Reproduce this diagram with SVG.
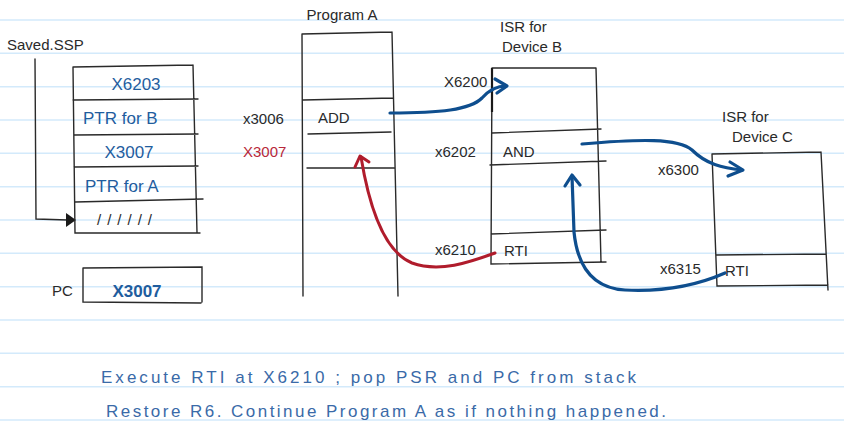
<svg xmlns="http://www.w3.org/2000/svg" width="844" height="434" viewBox="0 0 844 434">
<defs>
<style>
.rule{stroke:#d3eafb;stroke-width:1.5}
.box{fill:none;stroke:#2a2a2a;stroke-width:1.4;stroke-linecap:round}
.t{font-family:"Liberation Sans",Arial,sans-serif;font-size:15px;fill:#2a2a2a}
.tb{font-family:"Liberation Sans",Arial,sans-serif;font-size:17px;fill:#1f5d9e}
.tr{font-family:"Liberation Sans",Arial,sans-serif;font-size:15px;fill:#b8283a}
.note{font-family:"Liberation Sans",Arial,sans-serif;font-size:17px;fill:#3a6aa8}
.ab{fill:none;stroke:#0e4e8e;stroke-width:3.2;stroke-linecap:round;stroke-linejoin:round}
.ar{fill:none;stroke:#b01c2c;stroke-width:3;stroke-linecap:round;stroke-linejoin:round}
</style>
</defs>
<rect width="844" height="434" fill="#ffffff"/>
<g id="ruled">
<line class="rule" x1="0" y1="20" x2="844" y2="20"/>
<line class="rule" x1="0" y1="53.3" x2="844" y2="53.3"/>
<line class="rule" x1="0" y1="86.7" x2="844" y2="86.7"/>
<line class="rule" x1="0" y1="120" x2="844" y2="120"/>
<line class="rule" x1="0" y1="153.3" x2="844" y2="153.3"/>
<line class="rule" x1="0" y1="186.7" x2="844" y2="186.7"/>
<line class="rule" x1="0" y1="220" x2="844" y2="220"/>
<line class="rule" x1="0" y1="253.3" x2="844" y2="253.3"/>
<line class="rule" x1="0" y1="286.7" x2="844" y2="286.7"/>
<line class="rule" x1="0" y1="320" x2="844" y2="320"/>
<line class="rule" x1="0" y1="353.3" x2="844" y2="353.3"/>
<line class="rule" x1="0" y1="386.7" x2="844" y2="386.7"/>
<line class="rule" x1="0" y1="420" x2="844" y2="420"/>
</g>

<g id="saved-ssp">
<text class="t" x="7" y="50" font-size="17">Saved.SSP</text>
<path class="box" d="M35,59 L36,219 L68,220"/>
<polygon points="66,213 76,220 66,227" fill="#1a1a1a"/>
</g>

<g id="stack">
<path class="box" d="M73,67 L193,65 M73,67 L75,233 L200,233 M193,65 L197,233 M73,100 L198,99 M74,135 L198,134 M74,167 L198,166 M75,202 L203,199"/>
<text class="tb" x="136" y="90" text-anchor="middle" font-size="18">X6203</text>
<text class="tb" x="83" y="124">PTR for B</text>
<text class="tb" x="129" y="158" text-anchor="middle" font-size="18">X3007</text>
<text class="tb" x="85" y="192">PTR for A</text>
<text class="t" x="97" y="225" font-size="17" letter-spacing="6">//////</text>
</g>

<g id="pc">
<text class="t" x="52" y="296" font-size="16">PC</text>
<path class="box" d="M83,268 L202,267 L202,302 M83,268 L83,302 L201,303"/>
<text class="tb" x="137" y="297" text-anchor="middle" font-size="20" font-weight="bold">X3007</text>
</g>

<g id="program-a">
<text class="t" x="342" y="20" text-anchor="middle" font-size="14">Program A</text>
<path class="box" d="M302,34 L392,32 M302,34 L303,296 M392,32 L398,296 M303,100 L393,98 M308,134 L391,132 M307,168 L394,168"/>
<text class="t" x="243" y="124" font-size="16">x3006</text>
<text class="tr" x="243" y="157" font-size="16">X3007</text>
<text class="t" x="318" y="123">ADD</text>
</g>

<g id="isr-b">
<text class="t" x="500" y="32" font-size="15">ISR for</text>
<text class="t" x="502" y="52" font-size="15">Device B</text>
<path class="box" d="M492,68 L596,68 M492,68 L491,264 L606,262 M596,68 L601,262 M492,133 L601,129 M490,165 L606,161 M491,234 L606,230"/>
<path d="M492,68 L492,112" stroke="#1a1a1a" stroke-width="2.2"/>
<text class="t" x="444" y="87" font-size="14">X6200</text>
<text class="t" x="435" y="157" font-size="14">x6202</text>
<text class="t" x="503" y="157" font-size="16">AND</text>
<text class="t" x="435" y="255" font-size="14">x6210</text>
<text class="t" x="504" y="256" font-size="16">RTI</text>
</g>

<g id="isr-c">
<text class="t" x="722" y="122" font-size="14">ISR for</text>
<text class="t" x="732" y="142" font-size="15">Device C</text>
<path class="box" d="M712,154 L821,152 M712,154 L717,286 L828,285 M821,152 L828,290 M716,255 L826,254"/>
<text class="t" x="658" y="175" font-size="14">x6300</text>
<text class="t" x="660" y="274" font-size="15">x6315</text>
<text class="t" x="725" y="276" font-size="16">RTI</text>
</g>

<g id="connectors">
<path class="ab" d="M390,113 C440,113 470,110 482,98 C490,89 497,86 506,86"/>
<path class="ab" d="M495,79 L507,86 L497,93"/>
<path class="ab" d="M582,144 C640,139 678,138 692,150 C706,164 722,168 742,170"/>
<path class="ab" d="M730,162 L743,170 L728,176"/>
<path class="ab" d="M725,273 C700,284 665,292 625,290 C590,288 577,262 574,232 L572,176"/>
<path class="ab" d="M565,186 L572,175 L580,185"/>
<path class="ar" d="M495,253 C470,262 440,273 412,263 C385,252 370,212 361,157"/>
<path class="ar" d="M355,167 L360,156 L369,162"/>
</g>

<g id="notes">
<text class="note" x="101" y="383" textLength="535" lengthAdjust="spacing">Execute  RTI at X6210 ; pop PSR and  PC from stack</text>
<text class="note" x="106" y="417" textLength="560" lengthAdjust="spacing">Restore R6.  Continue  Program A  as if nothing happened.</text>
</g>
</svg>
